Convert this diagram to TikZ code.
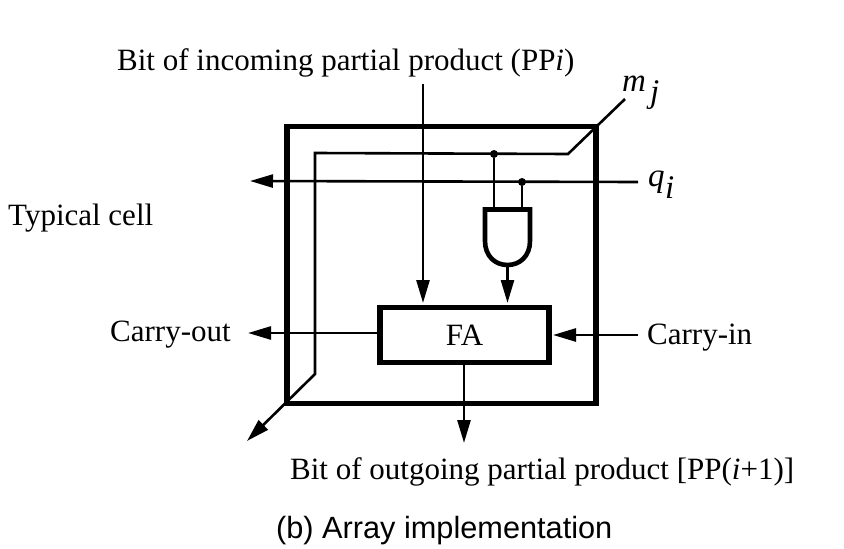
\documentclass[tikz,border=0pt]{standalone}
\usepackage{fontspec}
\setmainfont{Liberation Serif}
\newfontfamily\capfont{Liberation Sans}
\usetikzlibrary{arrows.meta,calc}
\tikzset{
  x=1pt,y=-1pt,
  thin line/.style={line width=2.6pt,line join=miter},
  thick box/.style={line width=5.5pt,line join=miter},
  arrow line/.style={thin line,-{Triangle[length=23pt,width=13pt]}},
  joint/.style={circle,fill=black,inner sep=0pt,minimum size=8pt},
  lab/.style={inner sep=0pt,font=\fontsize{31}{33}\selectfont},
  symb/.style={inner sep=0pt,font=\fontsize{33}{35}\selectfont\itshape},
  captext/.style={inner sep=0pt,font=\capfont\fontsize{30.7}{33}\selectfont},
}
\begin{document}
\begin{tikzpicture}
\useasboundingbox (0,0) rectangle (844,549);
% cell and FA
\node[thick box,draw,minimum width=309pt,minimum height=277pt,inner sep=0pt,outer sep=0pt] (cell) at (441.5,265) {};
\node[thick box,draw,minimum width=169pt,minimum height=55pt,inner sep=0pt,outer sep=0pt,lab] (fa) at (464.5,335) {FA};
% multiplier line
\coordinate (mjend) at (625,99);
\coordinate (m1) at (568,154);
\coordinate (m2) at (315,153);
\coordinate (m3) at (315,374);
\coordinate (mout) at (247,441);
\draw[arrow line] (mjend) -- (m1) -- (m2) -- (m3) -- (mout);
% q line
\coordinate (qstart) at (638,182);
\coordinate (qend) at (250,181);
\draw[arrow line] (qstart) -- (qend);
% AND gate
\coordinate (gtl) at (485,209.5);
\coordinate (gtr) at (530,209.5);
\draw[thick box,line width=4.6pt] (gtl) -- (gtr) -- (530,241) .. controls (530,256) and (520,265) .. (507.5,265) .. controls (495,265) and (485,256) .. (485,241) -- cycle;
\coordinate (gout) at (507.5,265);
\node[joint] (d1) at (494,154) {};
\node[joint] (d2) at (522,182) {};
\coordinate (gi1) at (494,209);
\coordinate (gi2) at (522,209);
\coordinate (gtip) at (507.5,303);
\draw[thin line] (d1) -- (gi1);
\draw[thin line] (d2) -- (gi2);
\draw[arrow line] (gout) -- (gtip);
% PP
\coordinate (ppin) at (423,84);
\coordinate (pptip) at (423,303);
\draw[arrow line] (ppin) -- (pptip);
% carries
\coordinate (cos) at (378,333);
\coordinate (cotip) at (248,333);
\draw[arrow line] (cos) -- (cotip);
\coordinate (cin) at (638,335);
\coordinate (citip) at (553,335);
\draw[arrow line] (cin) -- (citip);
\coordinate (fout) at (464,364);
\coordinate (ftip) at (464,443);
\draw[arrow line] (fout) -- (ftip);
% labels
\node[lab,anchor=base west] (tpp) at (117,70) {Bit of incoming partial product (PP\textit{i})};
\node[symb,anchor=base west] (tm) at (622,91) {m};
\node[symb,anchor=base west] (tj) at (650,102) {j};
\node[symb,anchor=base west] (tq) at (648,186) {q};
\node[symb,anchor=base west] (ti) at (665,198) {i};
\node[lab,anchor=base west] (tc) at (8,225) {Typical cell};
\node[lab,anchor=base west] (tco) at (110,341) {Carry-out};
\node[lab,anchor=base west] (tci) at (647,344) {Carry-in};
\node[lab,anchor=base west] (tout) at (290,479) {Bit of outgoing partial product [PP(\textit{i}+1)]};
\node[captext,anchor=base west] (tcap) at (276,538) {(b) Array implementation};
\end{tikzpicture}
\end{document}
